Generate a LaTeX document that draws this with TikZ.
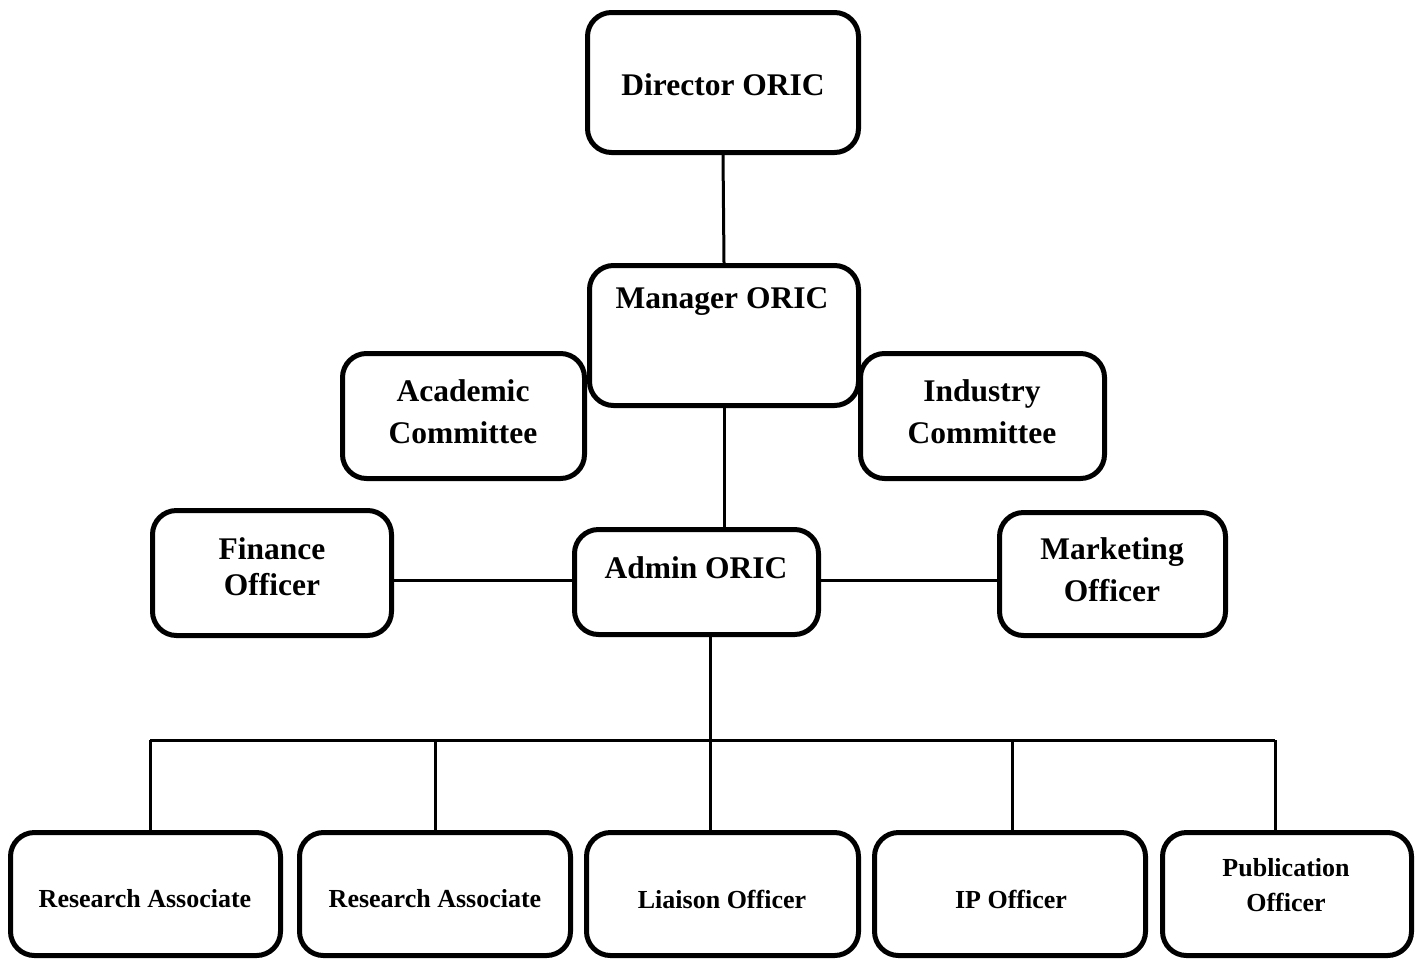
\documentclass[tikz,border=0pt]{standalone}
\usepackage{fontspec}
\setmainfont{Liberation Serif}
\begin{document}
\begin{tikzpicture}[x=1pt,y=-1pt,
  box/.style={draw=black,line width=5pt,rounded corners=24pt,fill=white,inner sep=0pt},
  conn/.style={draw=black,line width=3pt},
  big/.style={font=\fontsize{31.5}{42}\selectfont\bfseries,align=center,inner sep=0pt},
  bigtight/.style={font=\fontsize{31.5}{36}\selectfont\bfseries,align=center,inner sep=0pt},
  small/.style={font=\fontsize{26}{35}\selectfont\bfseries,align=center,inner sep=0pt}]
\useasboundingbox (0,0) rectangle (1423,959);
% boxes
\node[box,minimum width=271pt,minimum height=140pt] (dir) at (723,82.5) {};
\node[box,minimum width=242pt,minimum height=125pt] (acad) at (463.5,416) {};
\node[box,minimum width=244pt,minimum height=125pt] (ind) at (982.5,416) {};
\node[box,minimum width=269pt,minimum height=140pt] (mgr) at (724,335.5) {};
\node[box,minimum width=239pt,minimum height=125pt] (fin) at (272,573) {};
\node[box,minimum width=244pt,minimum height=105pt] (adm) at (696.5,582) {};
\node[box,minimum width=226pt,minimum height=123pt] (mkt) at (1112.5,574) {};
\node[box,minimum width=270pt,minimum height=123pt] (ra1) at (145.5,894) {};
\node[box,minimum width=271pt,minimum height=123pt] (ra2) at (435,894) {};
\node[box,minimum width=272pt,minimum height=123pt] (lia) at (722.5,894) {};
\node[box,minimum width=271pt,minimum height=123pt] (ip) at (1010,894) {};
\node[box,minimum width=249pt,minimum height=123pt] (pub) at (1287,894) {};
% texts
\node[big] (tdir) at (723,85) {Director ORIC};
\node[big] (tmgr) at (722,302) {Manager ORIC};
\node[big] (tacad) at (463,412) {Academic\\Committee};
\node[big] (tind) at (982,412) {Industry\\Committee};
\node[bigtight] (tfin) at (272,567) {Finance\\Officer};
\node[big] (tadm) at (696,568) {Admin ORIC};
\node[big] (tmkt) at (1112,570) {Marketing\\Officer};
\node[small] (tra1) at (145,899) {Research Associate};
\node[small] (tra2) at (435,899) {Research Associate};
\node[small] (tlia) at (722,899) {Liaison Officer};
\node[small] (tip) at (1011,899) {IP Officer};
\node[small] (tpub) at (1286,885) {Publication\\Officer};
% connectors
\coordinate (bus) at (710,740);
\coordinate (d1) at (150,740);
\coordinate (d2) at (435,740);
\coordinate (d4) at (1012,740);
\coordinate (d5) at (1275,740);
\draw[conn] (dir.south) -- (mgr.north);
\draw[conn] (mgr.south) -- (mgr.south |- adm.north);
\draw[conn] (fin.east |- 0,580) -- (adm.west |- 0,580);
\draw[conn] (adm.east |- 0,580) -- (mkt.west |- 0,580);
\draw[conn] (bus |- adm.south) -- (bus);
\draw[conn] (d1) -- (d5);
\draw[conn] (d1) -- (d1 |- ra1.north);
\draw[conn] (d2) -- (d2 |- ra2.north);
\draw[conn] (bus) -- (bus |- lia.north);
\draw[conn] (d4) -- (d4 |- ip.north);
\draw[conn] (d5) -- (d5 |- pub.north);
\end{tikzpicture}
\end{document}
